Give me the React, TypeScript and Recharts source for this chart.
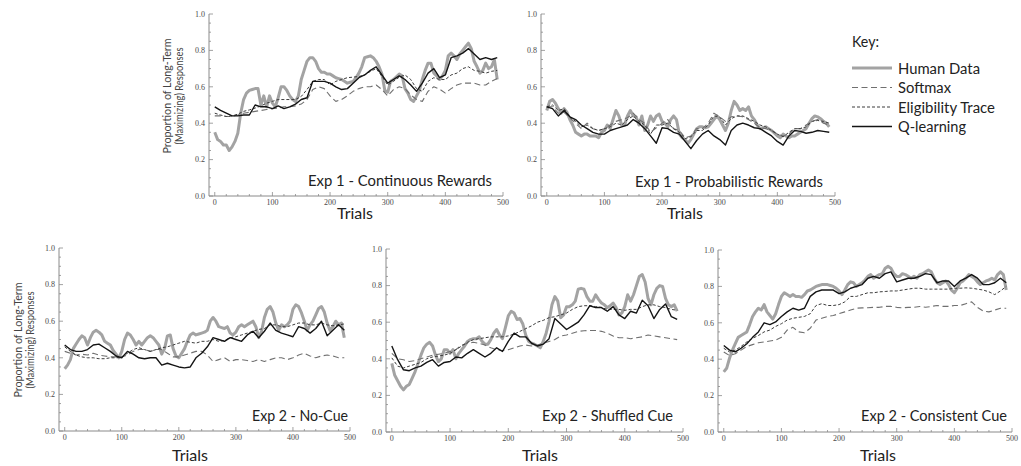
import React from "react";
import { LineChart, Line, XAxis, YAxis } from "recharts";

// trial positions of the sampled points
const TRIALS_5 = Array.from({ length: 99 }, (_, i) => i * 5);
const TRIALS_10 = Array.from({ length: 50 }, (_, i) => i * 10);

const X_TICKS = [0, 20, 40, 60, 80, 100, 120, 140, 160, 180, 200, 220, 240, 260, 280, 300, 320, 340, 360, 380, 400, 420, 440, 460, 480, 500];
const Y_TICKS = [0, 0.05, 0.1, 0.15, 0.2, 0.25, 0.3, 0.35, 0.4, 0.45, 0.5, 0.55, 0.6, 0.65, 0.7, 0.75, 0.8, 0.85, 0.9, 0.95, 1];

// Exp 1 - Continuous Rewards
const human1 = [
  0.35, 0.31, 0.3, 0.28, 0.28, 0.25, 0.27, 0.3, 0.345, 0.455,
  0.53, 0.565, 0.58, 0.585, 0.59, 0.59, 0.5, 0.55, 0.49, 0.55,
  0.51, 0.49, 0.54, 0.6, 0.6, 0.58, 0.55, 0.53, 0.52, 0.55,
  0.64, 0.69, 0.74, 0.76, 0.76, 0.74, 0.7, 0.68, 0.68, 0.67,
  0.67, 0.66, 0.65, 0.645, 0.64, 0.63, 0.62, 0.625, 0.63, 0.65,
  0.675, 0.71, 0.76, 0.765, 0.77, 0.76, 0.74, 0.71, 0.67, 0.58,
  0.57, 0.63, 0.64, 0.655, 0.67, 0.66, 0.59, 0.565, 0.53, 0.52,
  0.55, 0.58, 0.64, 0.69, 0.73, 0.73, 0.675, 0.66, 0.64, 0.66,
  0.69, 0.77, 0.785, 0.77, 0.75, 0.78, 0.8, 0.82, 0.84, 0.81,
  0.74, 0.71, 0.675, 0.69, 0.73, 0.7, 0.71, 0.75, 0.64,
];
const soft1 = [
  0.44, 0.44, 0.437, 0.437, 0.445, 0.455, 0.46, 0.465, 0.47, 0.475,
  0.48, 0.483, 0.49, 0.49, 0.495, 0.505, 0.53, 0.585, 0.6, 0.59,
  0.55, 0.52, 0.53, 0.55, 0.575, 0.59, 0.6, 0.6, 0.61, 0.585,
  0.55, 0.585, 0.6, 0.59, 0.555, 0.53, 0.52, 0.575, 0.6, 0.587,
  0.565, 0.59, 0.61, 0.62, 0.62, 0.62, 0.61, 0.61, 0.63, 0.645,
];
const elig1 = [
  0.455, 0.445, 0.437, 0.44, 0.45, 0.465, 0.473, 0.483, 0.495, 0.51,
  0.52, 0.53, 0.53, 0.53, 0.53, 0.547, 0.585, 0.63, 0.64, 0.64,
  0.61, 0.63, 0.64, 0.65, 0.653, 0.657, 0.665, 0.685, 0.7, 0.657,
  0.61, 0.63, 0.653, 0.665, 0.64, 0.59, 0.575, 0.63, 0.65, 0.64,
  0.64, 0.665, 0.675, 0.7, 0.71, 0.69, 0.685, 0.675, 0.685, 0.69,
];
const q1 = [
  0.49, 0.47, 0.455, 0.44, 0.44, 0.445, 0.445, 0.5, 0.49, 0.49,
  0.48, 0.495, 0.48, 0.49, 0.505, 0.53, 0.54, 0.63, 0.63, 0.63,
  0.62, 0.6, 0.585, 0.59, 0.62, 0.65, 0.665, 0.69, 0.71, 0.665,
  0.62, 0.64, 0.66, 0.64, 0.61, 0.575, 0.62, 0.675, 0.7, 0.65,
  0.665, 0.76, 0.77, 0.785, 0.81, 0.78, 0.75, 0.76, 0.75, 0.76,
];

// Exp 1 - Probabilistic Rewards
const human2 = [
  0.47, 0.52, 0.53, 0.51, 0.48, 0.455, 0.48, 0.46, 0.42, 0.39,
  0.35, 0.34, 0.33, 0.34, 0.34, 0.33, 0.33, 0.33, 0.32, 0.35,
  0.36, 0.39, 0.37, 0.42, 0.47, 0.44, 0.39, 0.39, 0.44, 0.47,
  0.44, 0.435, 0.39, 0.44, 0.36, 0.39, 0.44, 0.41, 0.44, 0.45,
  0.41, 0.4, 0.38, 0.42, 0.44, 0.42, 0.34, 0.32, 0.31, 0.29,
  0.31, 0.34, 0.37, 0.38, 0.38, 0.375, 0.38, 0.4, 0.42, 0.44,
  0.42, 0.39, 0.36, 0.4, 0.47, 0.52, 0.5, 0.47, 0.48, 0.47,
  0.49, 0.44, 0.42, 0.39, 0.37, 0.375, 0.38, 0.37, 0.36, 0.345,
  0.33, 0.32, 0.34, 0.33, 0.32, 0.33, 0.33, 0.34, 0.35, 0.36,
  0.37, 0.4, 0.425, 0.44, 0.435, 0.425, 0.41, 0.4, 0.38,
];
const soft2 = [
  0.49, 0.49, 0.455, 0.46, 0.43, 0.4, 0.37, 0.4, 0.37, 0.36,
  0.37, 0.39, 0.41, 0.42, 0.43, 0.455, 0.42, 0.4, 0.35, 0.375,
  0.4, 0.42, 0.37, 0.36, 0.32, 0.33, 0.37, 0.37, 0.4, 0.455,
  0.435, 0.41, 0.435, 0.44, 0.435, 0.42, 0.4, 0.375, 0.37, 0.36,
  0.34, 0.33, 0.34, 0.37, 0.37, 0.39, 0.41, 0.42, 0.4, 0.39,
];
const elig2 = [
  0.49, 0.5, 0.47, 0.48, 0.435, 0.41, 0.38, 0.39, 0.37, 0.36,
  0.37, 0.38, 0.4, 0.39, 0.42, 0.44, 0.41, 0.39, 0.34, 0.39,
  0.39, 0.4, 0.37, 0.35, 0.315, 0.325, 0.36, 0.36, 0.39, 0.44,
  0.435, 0.39, 0.425, 0.44, 0.44, 0.425, 0.41, 0.39, 0.38, 0.36,
  0.34, 0.325, 0.35, 0.37, 0.37, 0.38, 0.41, 0.415, 0.41, 0.4,
];
const q2 = [
  0.49, 0.48, 0.44, 0.47, 0.435, 0.42, 0.39, 0.37, 0.35, 0.34,
  0.34, 0.36, 0.37, 0.38, 0.39, 0.42, 0.4, 0.37, 0.33, 0.29,
  0.375, 0.37, 0.35, 0.34, 0.3, 0.26, 0.305, 0.34, 0.36, 0.33,
  0.31, 0.28, 0.36, 0.39, 0.4, 0.39, 0.375, 0.37, 0.35, 0.33,
  0.3, 0.28, 0.33, 0.36, 0.355, 0.345, 0.35, 0.36, 0.355, 0.35,
];

// Exp 2 - No-Cue
const human3 = [
  0.34, 0.36, 0.39, 0.45, 0.475, 0.5, 0.52, 0.51, 0.47, 0.51,
  0.54, 0.55, 0.54, 0.525, 0.49, 0.48, 0.47, 0.44, 0.42, 0.4,
  0.435, 0.5, 0.535, 0.525, 0.5, 0.47, 0.49, 0.47, 0.49, 0.51,
  0.52, 0.51, 0.49, 0.47, 0.42, 0.45, 0.52, 0.525, 0.45, 0.41,
  0.4, 0.425, 0.45, 0.49, 0.525, 0.535, 0.525, 0.53, 0.535, 0.54,
  0.55, 0.6, 0.62, 0.6, 0.57, 0.565, 0.56, 0.57, 0.535, 0.525,
  0.54, 0.57, 0.58, 0.57, 0.58, 0.59, 0.6, 0.57, 0.51, 0.545,
  0.62, 0.665, 0.68, 0.65, 0.59, 0.55, 0.58, 0.57, 0.58, 0.6,
  0.665, 0.69, 0.68, 0.645, 0.6, 0.55, 0.58, 0.6, 0.635, 0.67,
  0.68, 0.65, 0.59, 0.55, 0.57, 0.6, 0.58, 0.59, 0.51,
];
const soft3 = [
  0.435, 0.425, 0.415, 0.42, 0.415, 0.425, 0.415, 0.41, 0.405, 0.405,
  0.405, 0.415, 0.435, 0.445, 0.445, 0.435, 0.445, 0.445, 0.425, 0.405,
  0.405, 0.415, 0.425, 0.435, 0.435, 0.415, 0.38, 0.39, 0.4, 0.38,
  0.39, 0.39, 0.385, 0.38, 0.39, 0.38, 0.39, 0.4, 0.4, 0.39,
  0.4, 0.415, 0.425, 0.41, 0.4, 0.41, 0.415, 0.41, 0.4, 0.4,
];
const elig3 = [
  0.46, 0.435, 0.415, 0.405, 0.4, 0.4, 0.395, 0.395, 0.4, 0.4,
  0.405, 0.425, 0.445, 0.455, 0.445, 0.435, 0.445, 0.455, 0.46, 0.47,
  0.48, 0.49, 0.485, 0.48, 0.49, 0.49, 0.5, 0.49, 0.495, 0.51,
  0.515, 0.525, 0.535, 0.545, 0.555, 0.56, 0.58, 0.58, 0.57, 0.57,
  0.58, 0.59, 0.59, 0.58, 0.58, 0.59, 0.58, 0.575, 0.58, 0.585,
];
const q3 = [
  0.47, 0.445, 0.435, 0.435, 0.445, 0.47, 0.475, 0.455, 0.435, 0.41,
  0.4, 0.435, 0.42, 0.4, 0.395, 0.4, 0.4, 0.36, 0.37, 0.36,
  0.35, 0.345, 0.35, 0.4, 0.425, 0.46, 0.51, 0.5, 0.49, 0.51,
  0.5, 0.49, 0.525, 0.545, 0.51, 0.545, 0.59, 0.55, 0.535, 0.525,
  0.515, 0.57, 0.56, 0.535, 0.56, 0.6, 0.52, 0.55, 0.58, 0.55,
];

// Exp 2 - Shuffled Cue
const human4 = [
  0.375, 0.31, 0.28, 0.25, 0.23, 0.25, 0.26, 0.295, 0.33, 0.375,
  0.42, 0.46, 0.48, 0.49, 0.47, 0.42, 0.385, 0.4, 0.45, 0.45,
  0.43, 0.45, 0.4, 0.43, 0.45, 0.47, 0.495, 0.505, 0.51, 0.51,
  0.52, 0.495, 0.48, 0.48, 0.505, 0.54, 0.56, 0.53, 0.51, 0.57,
  0.635, 0.66, 0.65, 0.615, 0.62, 0.59, 0.53, 0.495, 0.485, 0.48,
  0.47, 0.46, 0.495, 0.54, 0.605, 0.695, 0.74, 0.715, 0.625, 0.64,
  0.685, 0.685, 0.695, 0.715, 0.78, 0.785, 0.78, 0.74, 0.715, 0.715,
  0.75, 0.725, 0.705, 0.695, 0.68, 0.69, 0.705, 0.68, 0.64, 0.65,
  0.685, 0.75, 0.715, 0.75, 0.8, 0.85, 0.86, 0.82, 0.73, 0.695,
  0.75, 0.785, 0.8, 0.795, 0.73, 0.695, 0.685, 0.695, 0.66,
];
const soft4 = [
  0.43, 0.4, 0.395, 0.385, 0.39, 0.4, 0.41, 0.42, 0.425, 0.43,
  0.44, 0.45, 0.475, 0.485, 0.49, 0.485, 0.475, 0.46, 0.45, 0.445,
  0.45, 0.46, 0.47, 0.475, 0.47, 0.475, 0.485, 0.495, 0.505, 0.525,
  0.53, 0.54, 0.55, 0.553, 0.555, 0.555, 0.55, 0.54, 0.525, 0.515,
  0.515, 0.51, 0.515, 0.52, 0.53, 0.525, 0.52, 0.515, 0.51, 0.505,
];
const elig4 = [
  0.405, 0.36, 0.35, 0.36, 0.37, 0.38, 0.4, 0.41, 0.415, 0.42,
  0.43, 0.45, 0.47, 0.49, 0.505, 0.51, 0.515, 0.52, 0.52, 0.52,
  0.525, 0.535, 0.55, 0.565, 0.58, 0.6, 0.61, 0.625, 0.63, 0.64,
  0.65, 0.67, 0.685, 0.69, 0.69, 0.685, 0.68, 0.67, 0.67, 0.67,
  0.665, 0.67, 0.67, 0.685, 0.695, 0.695, 0.685, 0.68, 0.67, 0.665,
];
const q4 = [
  0.47, 0.395, 0.34, 0.335, 0.35, 0.36, 0.38, 0.395, 0.36, 0.38,
  0.385, 0.41, 0.405, 0.43, 0.45, 0.43, 0.41, 0.43, 0.46, 0.44,
  0.495, 0.54, 0.52, 0.52, 0.485, 0.47, 0.48, 0.51, 0.62, 0.59,
  0.56, 0.58, 0.6, 0.64, 0.69, 0.68, 0.68, 0.66, 0.685, 0.64,
  0.62, 0.66, 0.65, 0.72, 0.69, 0.62, 0.67, 0.7, 0.63, 0.615,
];

// Exp 2 - Consistent Cue
const human5 = [
  0.33, 0.35, 0.405, 0.45, 0.485, 0.52, 0.53, 0.54, 0.55, 0.59,
  0.635, 0.66, 0.68, 0.67, 0.7, 0.66, 0.64, 0.62, 0.65, 0.7,
  0.745, 0.765, 0.755, 0.745, 0.755, 0.745, 0.745, 0.74, 0.755, 0.775,
  0.78, 0.79, 0.8, 0.805, 0.81, 0.81, 0.81, 0.805, 0.8, 0.79,
  0.775, 0.755, 0.78, 0.81, 0.825, 0.82, 0.8, 0.81, 0.82, 0.835,
  0.855, 0.865, 0.845, 0.855, 0.865, 0.87, 0.9, 0.91, 0.9, 0.87,
  0.855, 0.855, 0.87, 0.865, 0.855, 0.845, 0.855, 0.845, 0.865, 0.87,
  0.88, 0.89, 0.88, 0.845, 0.82, 0.81, 0.82, 0.83, 0.81, 0.78,
  0.765, 0.79, 0.82, 0.83, 0.845, 0.865, 0.855, 0.845, 0.825, 0.81,
  0.82, 0.83, 0.835, 0.845, 0.835, 0.865, 0.88, 0.865, 0.78,
];
const soft5 = [
  0.44, 0.42, 0.43, 0.45, 0.47, 0.48, 0.49, 0.495, 0.5, 0.505,
  0.52, 0.56, 0.575, 0.55, 0.545, 0.57, 0.615, 0.625, 0.635, 0.64,
  0.65, 0.66, 0.67, 0.68, 0.682, 0.683, 0.685, 0.685, 0.69, 0.69,
  0.685, 0.682, 0.685, 0.685, 0.69, 0.685, 0.69, 0.695, 0.69, 0.69,
  0.695, 0.695, 0.705, 0.715, 0.685, 0.665, 0.66, 0.67, 0.68, 0.68,
];
const elig5 = [
  0.46, 0.44, 0.45, 0.47, 0.495, 0.515, 0.53, 0.55, 0.56, 0.58,
  0.595, 0.615, 0.625, 0.63, 0.635, 0.65, 0.695, 0.705, 0.695, 0.695,
  0.7, 0.715, 0.745, 0.745, 0.755, 0.765, 0.765, 0.77, 0.772, 0.775,
  0.775, 0.78, 0.785, 0.79, 0.79, 0.785, 0.785, 0.785, 0.785, 0.785,
  0.79, 0.79, 0.792, 0.79, 0.785, 0.78, 0.77, 0.755, 0.775, 0.8,
];
const q5 = [
  0.475, 0.45, 0.44, 0.46, 0.485, 0.52, 0.55, 0.6, 0.59, 0.605,
  0.635, 0.66, 0.68, 0.67, 0.68, 0.745, 0.77, 0.78, 0.78, 0.78,
  0.76, 0.77, 0.79, 0.8, 0.81, 0.845, 0.855, 0.845, 0.87, 0.88,
  0.825, 0.835, 0.845, 0.845, 0.855, 0.87, 0.865, 0.82, 0.83, 0.83,
  0.8, 0.83, 0.845, 0.865, 0.845, 0.81, 0.81, 0.82, 0.845, 0.82,
];

const FRAME = "#8a8a8a";
const TICK_TEXT = "#4a4a4a";
const SERIF = "'Liberation Serif', 'DejaVu Serif', serif";
const SANS = "Lato, 'Noto Sans', sans-serif";

const HUMAN = { stroke: "#a3a3a3", width: 3, dash: undefined };
const SOFTMAX = { stroke: "#707070", width: 1.1, dash: "6 3.5" };
const ELIG = { stroke: "#3c3c3c", width: 1, dash: "3 2" };
const QLEARN = { stroke: "#141414", width: 1.4, dash: undefined };

const toSeries = (trials: number[], values: number[]) =>
  values.map((v, i) => ({ t: trials[i], v }));

const isMajorX = (v: number) => v % 100 === 0;
const isMajorY = (v: number) => Math.abs(v * 5 - Math.round(v * 5)) < 1e-6;

// inward frame ticks (Mathematica style), labels only on bottom/left
function FrameTick(props: any) {
  const { x, y, payload, side, labels } = props;
  const v = payload.value;
  const horiz = side === "bottom" || side === "top";
  const major = horiz ? isMajorX(v) : isMajorY(v);
  const len = major ? 4 : 2;
  let x2 = x;
  let y2 = y;
  if (side === "bottom") y2 = y - len;
  if (side === "top") y2 = y + len;
  if (side === "left") x2 = x + len;
  if (side === "right") x2 = x - len;
  return (
    <g>
      <line x1={x} y1={y} x2={x2} y2={y2} stroke={FRAME} strokeWidth={0.8} />
      {labels && major && side === "bottom" && (
        <text x={x} y={y + 8.5} textAnchor="middle" fontSize={8} fontFamily={SERIF} fill={TICK_TEXT}>
          {v}
        </text>
      )}
      {labels && major && side === "left" && (
        <text x={x - 4} y={y + 2.8} textAnchor="end" fontSize={8} fontFamily={SERIF} fill={TICK_TEXT}>
          {v.toFixed(1)}
        </text>
      )}
    </g>
  );
}

const Y_W = 40;
const X_H = 24;
const PAD = 3;
const PAD_R = 14;

interface PanelProps {
  left: number;
  top: number;
  w: number;
  h: number;
  human: number[];
  soft: number[];
  elig: number[];
  q: number[];
}

function Panel({ left, top, w, h, human, soft, elig, q }: PanelProps) {
  const axisLine = { stroke: FRAME, strokeWidth: 1 };
  const common = { type: "number" as const, allowDataOverflow: true, interval: 0 as const, tickSize: 0, tickMargin: 0, tickLine: false, axisLine };
  const lines = [
    { key: "human", data: toSeries(TRIALS_5, human), s: HUMAN },
    { key: "soft", data: toSeries(TRIALS_10, soft), s: SOFTMAX },
    { key: "elig", data: toSeries(TRIALS_10, elig), s: ELIG },
    { key: "q", data: toSeries(TRIALS_10, q), s: QLEARN },
  ];
  return (
    <div style={{ position: "absolute", left: left - Y_W, top: top - PAD }}>
      <LineChart width={w + Y_W + PAD_R} height={h + PAD + X_H} margin={{ top: PAD, right: PAD_R, bottom: 0, left: 0 }}>
        <XAxis {...common} xAxisId="b" dataKey="t" orientation="bottom" height={X_H} domain={[-10, 500]} ticks={X_TICKS}
          tick={(p: any) => <FrameTick {...p} side="bottom" labels />} />
        <XAxis {...common} xAxisId="t" dataKey="t" orientation="top" height={0} domain={[-10, 500]} ticks={X_TICKS}
          tick={(p: any) => <FrameTick {...p} side="top" />} />
        <YAxis {...common} yAxisId="l" orientation="left" width={Y_W} domain={[0, 1]} ticks={Y_TICKS}
          tick={(p: any) => <FrameTick {...p} side="left" labels />} />
        <YAxis {...common} yAxisId="r" orientation="right" width={0} domain={[0, 1]} ticks={Y_TICKS}
          tick={(p: any) => <FrameTick {...p} side="right" />} />
        {lines.map((l) => (
          <Line
            key={l.key}
            xAxisId="b"
            yAxisId="l"
            data={l.data}
            dataKey="v"
            type="linear"
            dot={false}
            activeDot={false}
            stroke={l.s.stroke}
            strokeWidth={l.s.width}
            strokeDasharray={l.s.dash}
            strokeLinejoin="round"
            isAnimationActive={false}
          />
        ))}
      </LineChart>
    </div>
  );
}

const PANELS = [
  { left: 209, top: 14, w: 294, h: 182, human: human1, soft: soft1, elig: elig1, q: q1 },
  { left: 541, top: 14, w: 294, h: 182, human: human2, soft: soft2, elig: elig2, q: q2 },
  { left: 59, top: 248, w: 291, h: 183, human: human3, soft: soft3, elig: elig3, q: q3 },
  { left: 386, top: 249, w: 297, h: 183, human: human4, soft: soft4, elig: elig4, q: q4 },
  { left: 718, top: 250, w: 294, h: 182, human: human5, soft: soft5, elig: elig5, q: q5 },
];

const TITLES = [
  { text: "Exp 1 - Continuous Rewards", x: 492, y: 186, len: 184 },
  { text: "Exp 1 - Probabilistic Rewards", x: 823, y: 187, len: 188 },
  { text: "Exp 2 - No-Cue", x: 348, y: 421, len: 96 },
  { text: "Exp 2 - Shuffled Cue", x: 673, y: 421, len: 131 },
  { text: "Exp 2 - Consistent Cue", x: 1007, y: 421, len: 146 },
];

const TRIALS_LABELS = [
  { x: 355, y: 219 },
  { x: 685, y: 219 },
  { x: 190, y: 461 },
  { x: 540, y: 461 },
  { x: 878, y: 461 },
];

const Y_TITLES = [
  { x1: 168, x2: 180, y: 96 },
  { x1: 18.5, x2: 30.5, y: 340 },
];

const KEY_ITEMS = [
  { label: "Human Data", s: HUMAN, y: 68, len: 82 },
  { label: "Softmax", s: SOFTMAX, y: 87.5, len: 53 },
  { label: "Eligibility Trace", s: ELIG, y: 107, len: 97 },
  { label: "Q-learning", s: QLEARN, y: 126.5, len: 68 },
];

export default function App() {
  return (
    <div style={{ position: "absolute", left: 0, top: 0, width: 1021, height: 466, background: "#fff", overflow: "hidden" }}>
      {PANELS.map((p, i) => (
        <Panel key={i} {...p} />
      ))}
      <svg width={1021} height={466} style={{ position: "absolute", left: 0, top: 0, pointerEvents: "none" }}>
        {TITLES.map((t) => (
          <text key={t.text} x={t.x - t.len} y={t.y} textLength={t.len} lengthAdjust="spacingAndGlyphs"
            fontFamily={SANS} fontSize={15.5} fill="#222">
            {t.text}
          </text>
        ))}
        {TRIALS_LABELS.map((t, i) => (
          <text key={i} x={t.x - 18} y={t.y} textLength={36} lengthAdjust="spacingAndGlyphs"
            fontFamily={SANS} fontSize={16} fill="#222">
            Trials
          </text>
        ))}
        {Y_TITLES.map((t, i) => (
          <g key={i} fontFamily={SANS} fontSize={12} fill="#444">
            <text x={t.x1 - 57.5} y={t.y} dominantBaseline="middle" textLength={115} lengthAdjust="spacingAndGlyphs"
              transform={`rotate(-90 ${t.x1} ${t.y})`}>
              Proportion of  Long-Term
            </text>
            <text x={t.x2 - 48.5} y={t.y} dominantBaseline="middle" textLength={97} lengthAdjust="spacingAndGlyphs"
              transform={`rotate(-90 ${t.x2} ${t.y})`}>
              (Maximizing) Responses
            </text>
          </g>
        ))}
        <text x={852} y={47} fontFamily={SANS} fontSize={15.5} fill="#222" textLength={27} lengthAdjust="spacingAndGlyphs">
          Key:
        </text>
        {KEY_ITEMS.map((k) => (
          <g key={k.label}>
            <line x1={852} x2={892} y1={k.y} y2={k.y} stroke={k.s.stroke} strokeWidth={k.s.width} strokeDasharray={k.s.dash} />
            <text x={898} y={k.y + 5.5} fontFamily={SANS} fontSize={15.5} fill="#222" textLength={k.len} lengthAdjust="spacingAndGlyphs">
              {k.label}
            </text>
          </g>
        ))}
      </svg>
    </div>
  );
}
